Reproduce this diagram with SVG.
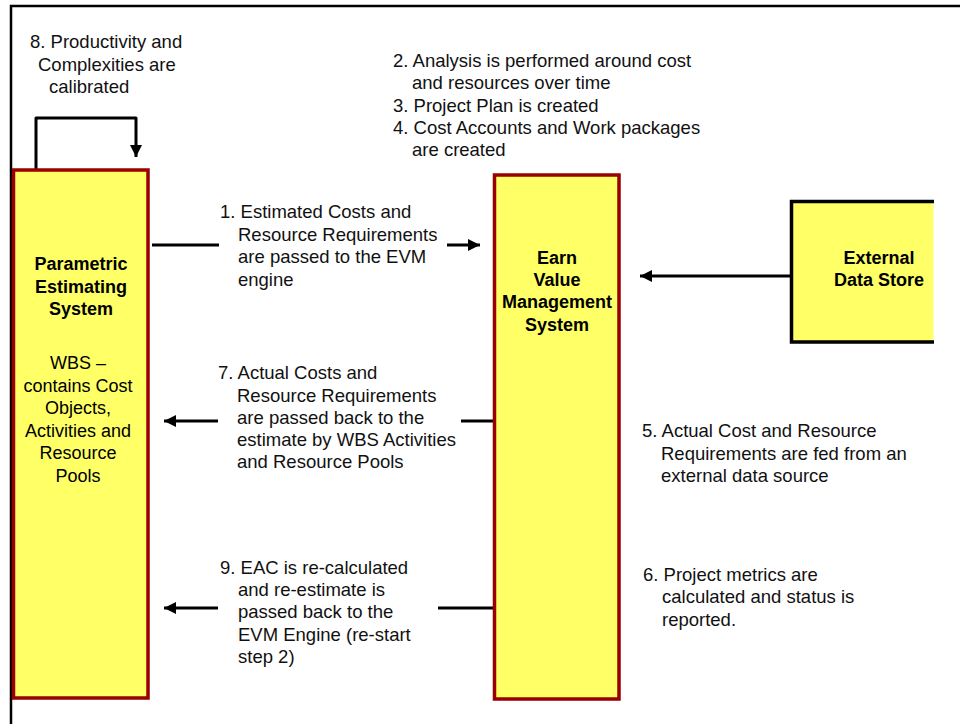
<svg xmlns="http://www.w3.org/2000/svg" width="960" height="724" viewBox="0 0 960 724">
<defs>
<marker id="ah" viewBox="0 0 10 10" refX="10" refY="5" markerWidth="4" markerHeight="4" orient="auto" markerUnits="strokeWidth">
<path d="M0,0 L10,5 L0,10 z" fill="#000"/>
</marker>
<style>
.t{font-family:"Liberation Sans",Arial,sans-serif;font-size:18.5px;fill:#111;}
.b{font-family:"Liberation Sans",Arial,sans-serif;font-size:18px;font-weight:bold;fill:#000;text-anchor:middle;}
.c{font-family:"Liberation Sans",Arial,sans-serif;font-size:18px;fill:#000;text-anchor:middle;}
.box{fill:#ffff66;stroke:#990000;stroke-width:3.5;}
.ln{fill:none;stroke:#000;stroke-width:3;}
</style>
</defs>
<rect width="960" height="724" fill="#fff"/>
<path d="M11,724 V6 H960" fill="none" stroke="#000" stroke-width="2.5"/>

<g id="connectors">
<path class="ln" d="M36,170 V118 H136 V157" stroke-linejoin="round" marker-end="url(#ah)"/>
<path class="ln" d="M152,245 H219"/>
<path class="ln" d="M447,245 H480" marker-end="url(#ah)"/>
<path class="ln" d="M218,421 H164" marker-end="url(#ah)"/>
<path class="ln" d="M493,421 H461"/>
<path class="ln" d="M218,608 H164" marker-end="url(#ah)"/>
<path class="ln" d="M493,608 H438"/>
<path class="ln" d="M791,276 H640" marker-end="url(#ah)"/>
</g>

<g id="parametric">
<rect class="box" x="13.5" y="170" width="134.5" height="528"/>
<text class="b"><tspan x="81" y="270">Parametric</tspan><tspan x="81" y="293">Estimating</tspan><tspan x="81" y="315">System</tspan></text>
<text class="c"><tspan x="78" y="369">WBS –</tspan><tspan x="78" y="392">contains Cost</tspan><tspan x="78" y="414">Objects,</tspan><tspan x="78" y="437">Activities and</tspan><tspan x="78" y="459">Resource</tspan><tspan x="78" y="482">Pools</tspan></text>
</g>

<g id="evm">
<rect class="box" x="494.5" y="175" width="124.5" height="524"/>
<text class="b"><tspan x="557" y="264">Earn</tspan><tspan x="557" y="286">Value</tspan><tspan x="557" y="308">Management</tspan><tspan x="557" y="331">System</tspan></text>
</g>

<g id="external">
<rect x="791.5" y="201.5" width="142" height="141" fill="#ffff66"/>
<path d="M934,201.5 H791.5 V342 H934" fill="none" stroke="#000" stroke-width="3.5"/>
<text class="b"><tspan x="879" y="264">External</tspan><tspan x="879" y="286">Data Store</tspan></text>
</g>

<g id="labels">
<text class="t"><tspan x="30" y="48">8. Productivity and</tspan><tspan x="38" y="71">Complexities are</tspan><tspan x="49" y="93">calibrated</tspan></text>
<text class="t"><tspan x="393" y="67">2. Analysis is performed around cost</tspan><tspan x="412" y="89">and resources over time</tspan><tspan x="393" y="111.5">3. Project Plan is created</tspan><tspan x="393" y="134">4. Cost Accounts and Work packages</tspan><tspan x="412" y="156">are created</tspan></text>
<text class="t"><tspan x="220" y="218">1. Estimated Costs and</tspan><tspan x="238" y="241">Resource Requirements</tspan><tspan x="238" y="263">are passed to the EVM</tspan><tspan x="238" y="286">engine</tspan></text>
<text class="t"><tspan x="218" y="379">7. Actual Costs and</tspan><tspan x="237" y="402">Resource Requirements</tspan><tspan x="237" y="424">are passed back to the</tspan><tspan x="237" y="446">estimate by WBS Activities</tspan><tspan x="237" y="468">and Resource Pools</tspan></text>
<text class="t"><tspan x="220" y="574">9. EAC is re-calculated</tspan><tspan x="238" y="596">and re-estimate is</tspan><tspan x="238" y="618">passed back to the</tspan><tspan x="238" y="641">EVM Engine (re-start</tspan><tspan x="238" y="663">step 2)</tspan></text>
<text class="t"><tspan x="642" y="437">5. Actual Cost and Resource</tspan><tspan x="661" y="460">Requirements are fed from an</tspan><tspan x="661" y="482">external data source</tspan></text>
<text class="t"><tspan x="643" y="581">6. Project metrics are</tspan><tspan x="662" y="603">calculated and status is</tspan><tspan x="662" y="626">reported.</tspan></text>
</g>
</svg>
